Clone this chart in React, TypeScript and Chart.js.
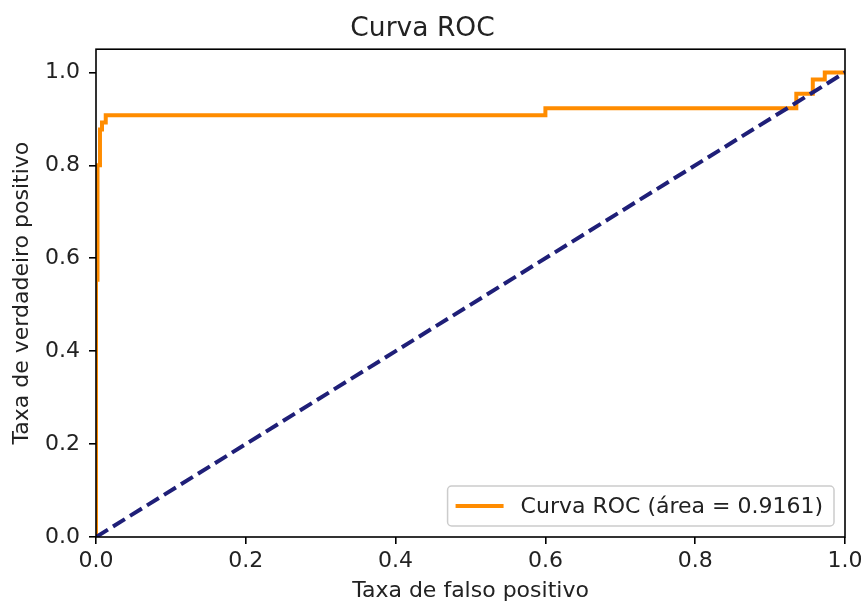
import React, { useEffect, useRef } from 'react';
import { Chart, registerables } from 'chart.js';

Chart.register(...registerables);

// ROC curve (false positive rate, true positive rate)
const fpr = [0, 0, 0.002, 0.002, 0.0053, 0.0053, 0.008, 0.008, 0.013, 0.013, 0.6, 0.6, 0.935, 0.935, 0.957, 0.957, 0.973, 0.973, 1.0];
const tpr = [0, 0.554, 0.554, 0.8, 0.8, 0.877, 0.877, 0.892, 0.892, 0.908, 0.908, 0.923, 0.923, 0.954, 0.954, 0.985, 0.985, 1.0, 1.0];
// chance diagonal
const diagX = [0, 1];
const diagY = [0, 1];

const xTicks = [0, 0.2, 0.4, 0.6, 0.8, 1.0];
const yTicks = [0, 0.2, 0.4, 0.6, 0.8, 1.0];

const chartTitle = 'Curva ROC';
const xLabel = 'Taxa de falso positivo';
const yLabel = 'Taxa de verdadeiro positivo';
const legendLabel = 'Curva ROC (área = 0.9161)';

const FONT = '"DejaVu Sans", sans-serif';
const ORANGE = '#ff8c00';
const NAVY = '#1f1f78';

const framePlugin = {
  id: 'frameAndLegend',
  afterDraw(chart: any) {
    const { ctx, chartArea: a } = chart;
    ctx.save();
    ctx.strokeStyle = '#000';
    ctx.lineWidth = 1.6;
    ctx.strokeRect(a.left, a.top, a.right - a.left, a.bottom - a.top);

    ctx.font = `22px ${FONT}`;
    const tw = ctx.measureText(legendLabel).width;
    const padL = 8, lineLen = 48, gap = 17, padR = 11;
    const w = padL + lineLen + gap + tw + padR;
    const h = 40;
    const x = a.right - 11 - w;
    const y = a.bottom - 11 - h;
    ctx.beginPath();
    if (ctx.roundRect) ctx.roundRect(x, y, w, h, 4); else ctx.rect(x, y, w, h);
    ctx.fillStyle = 'rgba(255,255,255,0.8)';
    ctx.fill();
    ctx.strokeStyle = '#cccccc';
    ctx.lineWidth = 1.5;
    ctx.stroke();

    ctx.beginPath();
    ctx.moveTo(x + padL, y + h / 2);
    ctx.lineTo(x + padL + lineLen, y + h / 2);
    ctx.strokeStyle = ORANGE;
    ctx.lineWidth = 4;
    ctx.stroke();

    ctx.fillStyle = '#222';
    ctx.textBaseline = 'middle';
    ctx.textAlign = 'left';
    ctx.fillText(legendLabel, x + padL + lineLen + gap, y + h / 2 + 1);
    ctx.restore();
  },
};

export default function App() {
  const ref = useRef<HTMLCanvasElement | null>(null);

  useEffect(() => {
    document.body.style.margin = '0';
    const canvas = ref.current;
    if (!canvas) return;
    const chart = new Chart(canvas, {
      type: 'scatter',
      data: {
        datasets: [
          {
            label: legendLabel,
            data: fpr.map((v, i) => ({ x: v, y: tpr[i] })),
            showLine: true,
            borderColor: ORANGE,
            backgroundColor: ORANGE,
            borderWidth: 4,
            pointRadius: 0,
            tension: 0,
            order: 1,
          },
          {
            label: 'diagonal',
            data: diagX.map((v, i) => ({ x: v, y: diagY[i] })),
            showLine: true,
            borderColor: NAVY,
            backgroundColor: NAVY,
            borderWidth: 4,
            borderDash: [14, 6],
            pointRadius: 0,
            order: 0,
          },
        ],
      },
      options: {
        animation: false,
        responsive: false,
        maintainAspectRatio: false,
        layout: { padding: { left: 0, right: 18, top: 0, bottom: 0 } },
        plugins: {
          legend: { display: false },
          tooltip: { enabled: false },
          title: {
            display: true,
            text: chartTitle,
            color: '#222',
            font: { family: FONT, size: 26.5, weight: 'normal' },
            padding: { top: 13, bottom: 4.4 },
          },
        },
        scales: {
          x: {
            type: 'linear',
            min: 0,
            max: 1,
            afterBuildTicks: (s: any) => { s.ticks = xTicks.map((v) => ({ value: v })); },
            afterFit: (s: any) => { s.height = 67; s.paddingRight = 0; s.paddingLeft = 0; },
            border: { display: false },
            grid: { display: true, drawOnChartArea: false, drawTicks: true, tickLength: 7, tickColor: '#000', lineWidth: 1.6, color: '#000' },
            ticks: {
              color: '#222',
              font: { family: FONT, size: 22 },
              padding: 4,
              maxRotation: 0,
              callback: (v: any) => Number(v).toFixed(1),
            },
            title: {
              display: true,
              text: xLabel,
              color: '#222',
              font: { family: FONT, size: 22 },
              padding: { top: 0, bottom: 0 },
            },
          },
          y: {
            type: 'linear',
            min: 0,
            max: 1.05,
            afterBuildTicks: (s: any) => { s.ticks = yTicks.map((v) => ({ value: v })); },
            afterFit: (s: any) => { s.width = 96; s.paddingTop = 0; s.paddingBottom = 0; },
            border: { display: false },
            grid: { display: true, drawOnChartArea: false, drawTicks: true, tickLength: 7, tickColor: '#000', lineWidth: 1.6, color: '#000' },
            ticks: {
              color: '#222',
              font: { family: FONT, size: 22 },
              padding: 9,
              callback: (v: any) => Number(v).toFixed(1),
            },
            title: {
              display: true,
              text: yLabel,
              color: '#222',
              font: { family: FONT, size: 22 },
              padding: { top: 9, bottom: 0 },
            },
          },
        },
      },
      plugins: [framePlugin],
    });
    return () => chart.destroy();
  }, []);

  return (
    <div style={{ position: 'absolute', left: 0, top: 0, width: 863, height: 604, background: '#fff' }}>
      <canvas ref={ref} width={863} height={604} style={{ width: 863, height: 604, display: 'block' }} />
    </div>
  );
}
